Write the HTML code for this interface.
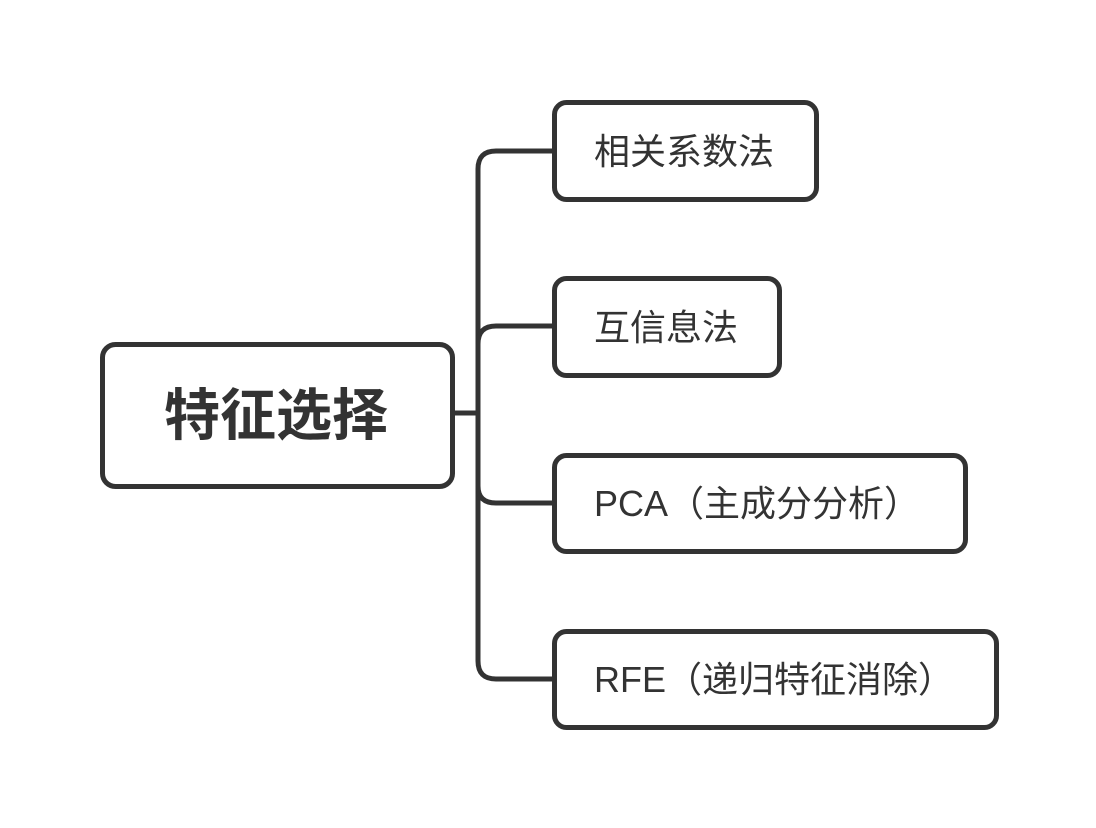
<!DOCTYPE html>
<html><head><meta charset="utf-8"><style>
html,body{margin:0;padding:0;background:#fff;}
svg{display:block;}
text{font-family:"Liberation Sans","Noto Sans CJK SC",sans-serif;fill:#333;}
</style></head><body>
<svg width="1096" height="828" viewBox="0 0 1096 828" xmlns="http://www.w3.org/2000/svg">
<g fill="none" stroke="#333" stroke-width="5" stroke-linecap="round" stroke-linejoin="round">
<path d="M453 413 H478"/>
<path d="M554 151 H496 Q478 151 478 169 V661 Q478 679 496 679 H554"/>
<path d="M554 326 H496 Q478 326 478 344 V486 Q478 503 496 503 H554"/>
<rect x="102.5" y="344.5" width="350" height="142" rx="13"/>
<rect x="554.5" y="102.5" width="262" height="97" rx="12"/>
<rect x="554.5" y="278.5" width="225" height="97" rx="12"/>
<rect x="554.5" y="455.5" width="411" height="96" rx="12"/>
<rect x="554.5" y="631.5" width="442" height="96" rx="12"/>
</g>
<text x="276" y="435" font-size="56" font-weight="bold" text-anchor="middle">特征选择</text>
<text x="594" y="164" font-size="36">相关系数法</text>
<text x="594" y="340" font-size="36">互信息法</text>
<text x="594" y="516" font-size="36">PCA（主成分分析）</text>
<text x="594" y="692" font-size="36">RFE（递归特征消除）</text>
</svg>
</body></html>
